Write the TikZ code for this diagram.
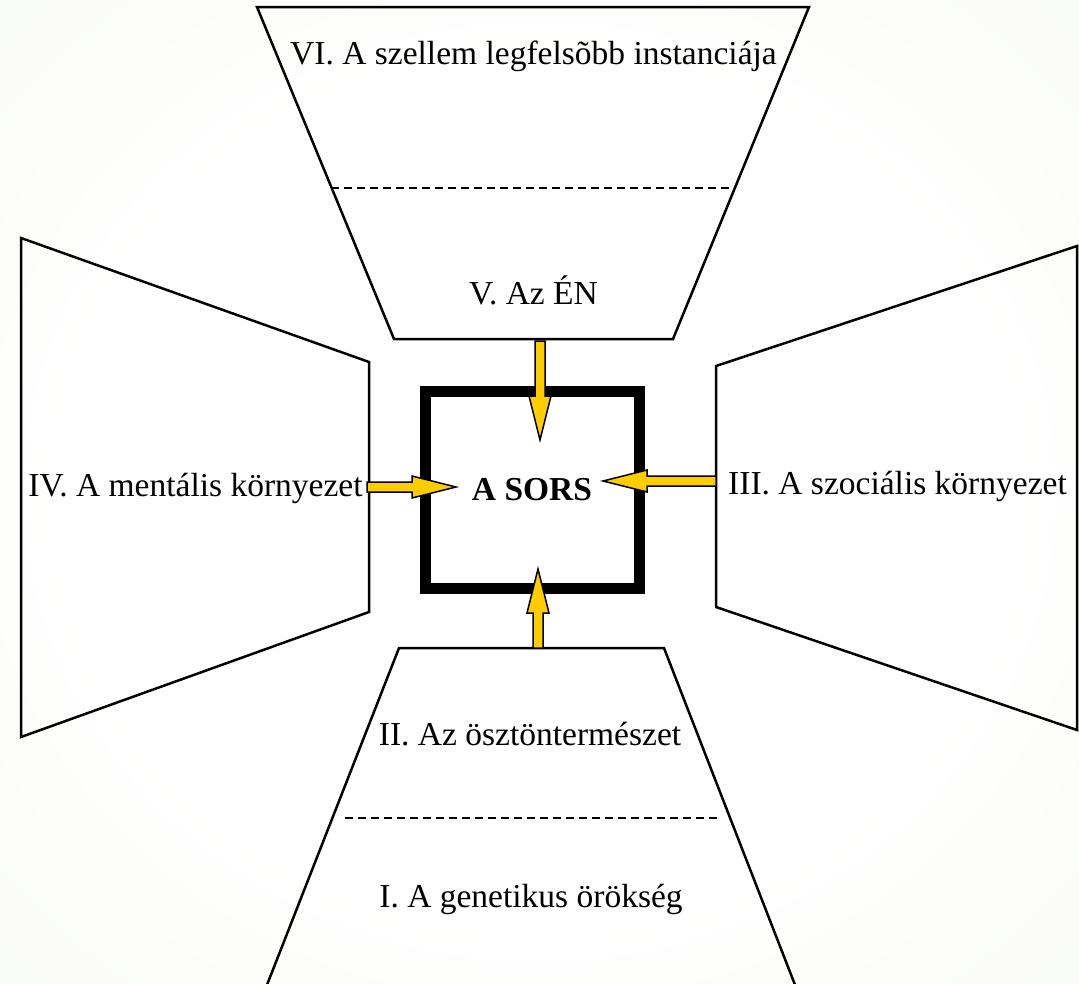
\documentclass[tikz,border=0pt]{standalone}
\usepackage{fontspec}
\setmainfont{Liberation Serif}
\usetikzlibrary{calc}
\definecolor{sorsyellow}{RGB}{255,204,0}
\definecolor{bgedge}{RGB}{236,242,224}
\pgfdeclareradialshading{bgglow}{\pgfpoint{0bp}{0bp}}{color(0bp)=(white); color(22bp)=(white); color(71bp)=(bgedge)}
\newcommand\sorsarrow[2]{%
  \filldraw[sorsarrow] let \p1=(#1), \p2=(#2),
    \n1={atan2(\y2-\y1,\x2-\x1)}, \n2={veclen(\x2-\x1,\y2-\y1)} in
    [shift={(\p1)}, rotate=\n1]
    (0pt,-5pt) -- ({\n2-44pt},-5pt) -- ({\n2-44pt},-11pt) -- ({\n2*1pt},0pt)
    -- ({\n2-44pt},11pt) -- ({\n2-44pt},5pt) -- (0pt,5pt) -- cycle;}
\begin{document}
\begin{tikzpicture}[x=1pt,y=-1pt,
  trap/.style={line width=2.5pt,line join=miter},
  divider/.style={line width=2pt,dash pattern=on 8pt off 5pt},
  label/.style={inner sep=0pt,anchor=base,font=\fontsize{33.5}{40}\selectfont},
  sorsarrow/.style={fill=sorsyellow,draw=black,line width=1.5pt,line join=miter}]
\useasboundingbox (0,0) rectangle (1079,983);
\shade[shading=bgglow] (0,0) rectangle (1079,983);
\draw[trap] (257,7) -- (809,7) -- (673,339) -- (394,339) -- cycle;
\draw[trap] (399,648) -- (664,648) -- (797,990) -- (265,990) -- cycle;
\draw[trap] (21,238) -- (369,362) -- (369,612) -- (21,737) -- cycle;
\draw[trap] (716,366) -- (1077,246) -- (1077,730) -- (716,607) -- cycle;
\draw[divider] (331,188) -- (736,188);
\draw[divider] (345,818) -- (717,818);
\node[label] (szell) at (533.5,64) {VI. A szellem legfelsõbb instanciája};
\node[label] (en) at (533.5,304) {V. Az ÉN};
\node[label] (ment) at (195.5,496) {IV. A mentális környezet};
\node[label] (szoc) at (897.5,494) {III. A szociális környezet};
\node[label] (osz) at (530,745) {II. Az ösztöntermészet};
\node[label] (gen) at (531,907) {I. A genetikus örökség};
\node[draw,line width=11pt,minimum width=214pt,minimum height=197pt,inner sep=0pt,
  font=\bfseries\fontsize{33.5}{40}\selectfont] (sors) at (532,489.5) {A SORS};
\coordinate (p5) at (540,341);
\coordinate (q5) at (540,440);
\coordinate (p2) at (538,648);
\coordinate (q2) at (538,569);
\coordinate (p4) at (367,487);
\coordinate (q4) at (456,487);
\coordinate (p3) at (716,481);
\coordinate (q3) at (603,481);
\sorsarrow{p5}{q5}
\sorsarrow{p2}{q2}
\sorsarrow{p4}{q4}
\sorsarrow{p3}{q3}
\end{tikzpicture}
\end{document}
